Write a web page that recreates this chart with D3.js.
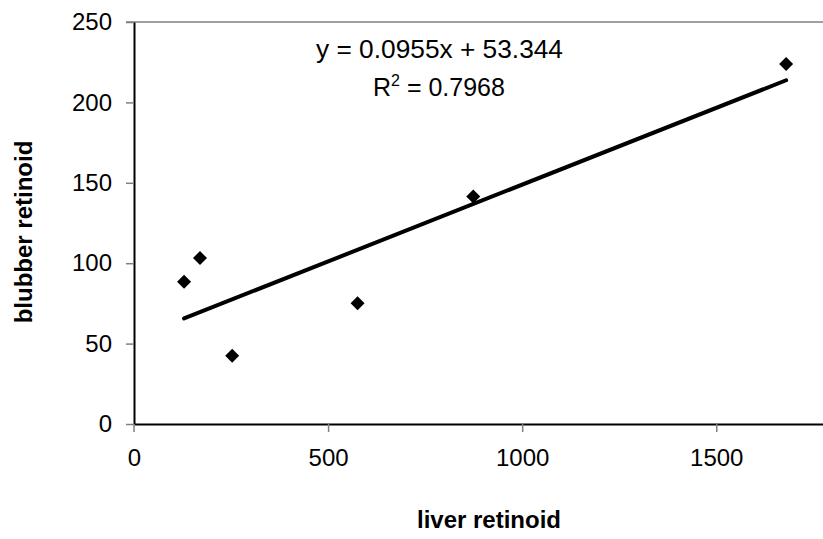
<!DOCTYPE html>
<html>
<head>
<meta charset="utf-8">
<script src="https://cdn.jsdelivr.net/npm/d3@7"></script>
<style>
  html, body { margin: 0; padding: 0; background: #fff; }
  svg { display: block; }
  text { font-family: "Liberation Sans", Arial, sans-serif; fill: #000; }
</style>
</head>
<body>
<svg id="chart" width="823" height="539"></svg>
<script>
// ---- data ----
const liverRetinoid   = [129, 170, 253, 576, 874, 1680];
const blubberRetinoid = [88.5, 103.2, 42.5, 75.1, 141.5, 223.9];
const xTicks = [0, 500, 1000, 1500];
const yTicks = [0, 50, 100, 150, 200, 250];
const trendSlope = 0.0955;
const trendIntercept = 53.344;
const equationText = "y = 0.0955x + 53.344";
const r2Value = "0.7968";
const xTitle = "liver retinoid";
const yTitle = "blubber retinoid";

// ---- layout ----
const svg = d3.select("#chart");
const x = d3.scaleLinear().domain([0, 1775]).range([134, 823]);
const y = d3.scaleLinear().domain([0, 250]).range([424, 22]);
const fontSize = 24;
const fmt = d3.format("d");

// top border line (gray)
svg.append("line")
  .attr("x1", 126).attr("x2", 823)
  .attr("y1", y(250)).attr("y2", y(250))
  .attr("stroke", "#808080").attr("stroke-width", 1.5);

// y axis
const yAxis = svg.append("g")
  .attr("transform", `translate(${x(0)},0)`)
  .call(d3.axisLeft(y).tickValues(yTicks).tickFormat(fmt).tickSize(8).tickPadding(14).tickSizeOuter(0));
yAxis.select(".domain").attr("stroke", "#000").attr("stroke-width", 2);
yAxis.selectAll(".tick line").attr("stroke", "#808080").attr("stroke-width", 1.5);
yAxis.selectAll(".tick text")
  .style("font-family", '"Liberation Sans", Arial, sans-serif')
  .style("font-size", fontSize + "px").attr("fill", "#000");

// x axis
const xAxis = svg.append("g")
  .attr("transform", `translate(0,${y(0)})`)
  .call(d3.axisBottom(x).tickValues(xTicks).tickFormat(fmt).tickSize(8).tickPadding(17).tickSizeOuter(0));
xAxis.select(".domain").attr("stroke", "#000").attr("stroke-width", 2);
xAxis.selectAll(".tick line").attr("stroke", "#808080").attr("stroke-width", 1.5);
xAxis.selectAll(".tick text")
  .style("font-family", '"Liberation Sans", Arial, sans-serif')
  .style("font-size", fontSize + "px").attr("fill", "#000");
xAxis.selectAll(".tick").filter(d => d === 0).select("line").remove();
svg.append("line").attr("x1", x(0)).attr("x2", x(0)).attr("y1", y(0)).attr("y2", y(0) + 8)
  .attr("stroke", "#808080").attr("stroke-width", 1.5);

// trendline
const xMin = d3.min(liverRetinoid), xMax = d3.max(liverRetinoid);
svg.append("line")
  .attr("x1", x(xMin)).attr("y1", y(trendSlope * xMin + trendIntercept))
  .attr("x2", x(xMax)).attr("y2", y(trendSlope * xMax + trendIntercept))
  .attr("stroke", "#000").attr("stroke-width", 4).attr("stroke-linecap", "round");

// points (diamonds)
const diamond = d3.symbol().type(d3.symbolSquare).size(98);
svg.append("g").selectAll("path")
  .data(liverRetinoid.map((v, i) => [v, blubberRetinoid[i]]))
  .join("path")
  .attr("d", diamond)
  .attr("transform", d => `translate(${x(d[0])},${y(d[1])}) rotate(45)`)
  .attr("fill", "#000");

// equation labels
svg.append("text")
  .attr("x", 316).attr("y", 58)
  .attr("textLength", 247).attr("lengthAdjust", "spacingAndGlyphs")
  .style("font-size", "25px")
  .text(equationText);
const r2 = svg.append("text")
  .attr("x", 373).attr("y", 96)
  .style("font-size", "25px");
r2.append("tspan").text("R");
r2.append("tspan").attr("dy", -10).style("font-size", "16px").text("2");
r2.append("tspan").attr("dy", 10).text(" = " + r2Value);

// axis titles
svg.append("text")
  .attr("x", 489).attr("y", 528)
  .attr("text-anchor", "middle")
  .style("font-size", fontSize + "px").style("font-weight", "bold")
  .text(xTitle);
svg.append("text")
  .attr("transform", "translate(32,232) rotate(-90)")
  .attr("text-anchor", "middle")
  .style("font-size", fontSize + "px").style("font-weight", "bold")
  .text(yTitle);
</script>
</body>
</html>
